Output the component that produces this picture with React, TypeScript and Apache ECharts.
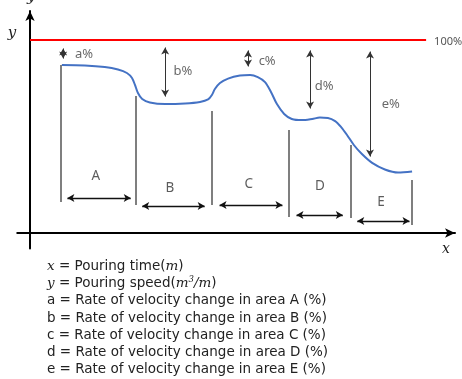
import React, { useEffect, useRef } from "react";
import * as echarts from "echarts";

// Pouring curve (time units, speed as % of target)
const curveTime = [7.5, 12.9, 17.6, 20.7, 22.8, 24.0, 24.7, 25.4, 26.4, 28.2, 31.8, 36.5, 40.0, 41.9, 42.8, 43.5, 44.7, 46.6, 49.4, 51.8, 53.6, 55.3, 56.7, 58.1, 59.8, 61.6, 64.0, 66.4, 68.2, 70.1, 71.8, 73.2, 74.6, 76.2, 78.1, 80.5, 83.5, 86.6, 89.9];
const curveSpeed = [87.0, 86.8, 86.0, 84.7, 82.9, 80.3, 76.7, 72.5, 69.4, 67.6, 66.8, 67.1, 67.9, 69.2, 71.5, 74.6, 77.7, 80.0, 81.6, 81.9, 80.8, 78.2, 73.1, 66.8, 61.7, 59.1, 58.5, 59.1, 59.8, 59.6, 58.0, 54.9, 50.8, 45.6, 40.9, 36.3, 32.9, 31.3, 31.9];

const targetSpeed = 100;
const targetEnd = 93.2;
const targetLabel = "100%";

// Area boundaries
const boundaryTime = [7.3, 24.9, 42.8, 60.9, 75.5, 89.9];
const boundaryTop = [87.0, 71.0, 63.2, 53.4, 45.6, 27.5];
const boundaryBottom = [16.1, 14.5, 14.5, 8.3, 7.8, 4.1];

// Area spans
const areaNames = ["A", "B", "C", "D", "E"];
const spanStart = [8.8, 26.4, 44.6, 62.7, 77.0];
const spanEnd = [23.7, 41.1, 59.4, 73.6, 89.3];
const spanLevel = [18.1, 14.0, 14.5, 9.3, 6.2];
const areaLabelTime = [15.5, 32.9, 51.5, 68.2, 82.6];
const areaLabelSpeed = [30.1, 23.8, 25.9, 24.9, 16.6];

// Rate-of-change arrows
const rateNames = ["a%", "b%", "c%", "d%", "e%"];
const rateTime = [7.8, 31.8, 51.3, 65.9, 80.0];
const rateTop = [95.6, 96.1, 94.6, 94.6, 94.0];
const rateBottom = [90.4, 70.7, 86.3, 64.5, 39.6];
const rateLabelTime = [12.7, 36.0, 55.8, 69.2, 84.9];
const rateLabelSpeed = [93.3, 84.5, 89.6, 76.7, 67.4];

const legendLines = [
  "{i|x} = Pouring time({i|m})",
  "{i|y} = Pouring speed({i|m}{sup|3}{i|/m})",
  "a = Rate of velocity change in area A (%)",
  "b = Rate of velocity change in area B (%)",
  "c = Rate of velocity change in area C (%)",
  "d = Rate of velocity change in area D (%)",
  "e = Rate of velocity change in area E (%)",
];

const SANS = "'Noto Sans', 'Open Sans', sans-serif";
const WIDE = "'DejaVu Sans', 'Noto Sans', sans-serif";
const SERIF = "'DejaVu Serif', 'Liberation Serif', serif";

export default function App() {
  const ref = useRef<HTMLDivElement>(null);
  useEffect(() => {
    if (!ref.current) return;
    const chart = echarts.init(ref.current, null, { renderer: "svg" });

    const curve = curveTime.map((t, i) => [t, curveSpeed[i]]);
    const boundaries = boundaryTime.map((t, i) => [
      { coord: [t, boundaryBottom[i]] },
      { coord: [t, boundaryTop[i]] },
    ]);
    const spans = areaNames.map((_, i) => [
      { coord: [spanStart[i], spanLevel[i]] },
      { coord: [spanEnd[i], spanLevel[i]] },
    ]);
    const rates = rateNames.map((_, i) => [
      { coord: [rateTime[i], rateTop[i]] },
      { coord: [rateTime[i], rateBottom[i]] },
    ]);
    const areaLabels = areaNames.map((n, i) => ({ name: n, value: [areaLabelTime[i], areaLabelSpeed[i]] }));
    const rateLabels = rateNames.map((n, i) => ({ name: n, value: [rateLabelTime[i], rateLabelSpeed[i]] }));

    const axisCommon = {
      type: "value" as const,
      axisLabel: { show: false },
      axisTick: { show: false },
      splitLine: { show: false },
      axisLine: {
        show: true,
        onZero: true,
        symbol: ["none", "arrow"],
        symbolSize: [7, 10],
        lineStyle: { color: "#000", width: 2 },
      },
    };

    chart.setOption({
      animation: false,
      grid: { left: 17.25, right: 7, top: 11.05, bottom: 130.56, outerBoundsMode: "none" },
      xAxis: { ...axisCommon, min: -3, max: 100 },
      yAxis: { ...axisCommon, min: -8, max: 115 },
      series: [
        {
          type: "line",
          name: "target",
          data: [
            [0, targetSpeed],
            [targetEnd, targetSpeed],
          ],
          showSymbol: false,
          silent: true,
          lineStyle: { color: "#ff0000", width: 2 },
          endLabel: {
            show: true,
            formatter: targetLabel,
            color: "#555",
            fontSize: 11,
            fontFamily: SANS,
            distance: 8,
          },
        },
        {
          type: "line",
          name: "speed",
          data: curve,
          smooth: 0.3,
          showSymbol: false,
          silent: true,
          lineStyle: { color: "#4472c4", width: 2 },
        },
        {
          type: "line",
          name: "guides",
          data: [],
          silent: true,
          markLine: {
            silent: true,
            symbol: ["none", "none"],
            label: { show: false },
            lineStyle: { color: "#555", width: 1.5, type: "solid" },
            data: boundaries,
          },
        },
        {
          type: "line",
          name: "spans",
          data: [],
          silent: true,
          markLine: {
            silent: true,
            symbol: ["arrow", "arrow"],
            symbolSize: [6, 7],
            label: { show: false },
            lineStyle: { color: "#111", width: 1.3, type: "solid" },
            data: spans,
          },
        },
        {
          type: "line",
          name: "rates",
          data: [],
          silent: true,
          markLine: {
            silent: true,
            symbol: ["arrow", "arrow"],
            symbolSize: [6, 7],
            label: { show: false },
            lineStyle: { color: "#333", width: 1, type: "solid" },
            data: rates,
          },
        },
        {
          type: "scatter",
          name: "areaLabels",
          data: areaLabels,
          symbolSize: 0,
          silent: true,
          label: { show: true, position: "inside", formatter: "{b}", color: "#333", fontSize: 13.5, fontFamily: SANS },
        },
        {
          type: "scatter",
          name: "rateLabels",
          data: rateLabels,
          symbolSize: 0,
          silent: true,
          label: { show: true, position: "inside", formatter: "{b}", color: "#444", fontSize: 13, fontFamily: SANS },
        },
      ],
      graphic: [
        {
          type: "text",
          x: 27,
          y: -12,
          silent: true,
          style: { text: "y", font: `italic 15px ${SERIF}`, fill: "#222" },
        },
        {
          type: "text",
          x: 12,
          y: 32,
          silent: true,
          style: { text: "y", font: `italic 15px ${SERIF}`, fill: "#222", align: "center", verticalAlign: "middle" },
        },
        {
          type: "text",
          x: 446,
          y: 248,
          silent: true,
          style: { text: "x", font: `italic 14px ${SERIF}`, fill: "#222", align: "center", verticalAlign: "middle" },
        },
        ...legendLines.map((line, i) => ({
          type: "text",
          x: 47,
          y: 265 + i * 17.2,
          silent: true,
          style: {
            text: line,
            fontFamily: WIDE,
            fontSize: 13.5,
            lineHeight: 16,
            fill: "#222",
            verticalAlign: "middle",
            rich: {
              i: { fontFamily: SERIF, fontStyle: "italic", fontSize: 13.5, lineHeight: 16, fill: "#222" },
              sup: { fontFamily: SERIF, fontStyle: "italic", fontSize: 8.5, lineHeight: 16, fill: "#222", verticalAlign: "top", padding: [0, 0, 5, 0] },
            },
          },
        })),
      ],
    });
    return () => chart.dispose();
  }, []);
  return <div ref={ref} style={{ position: "fixed", left: 0, top: 0, width: 462, height: 379 }} />;
}
